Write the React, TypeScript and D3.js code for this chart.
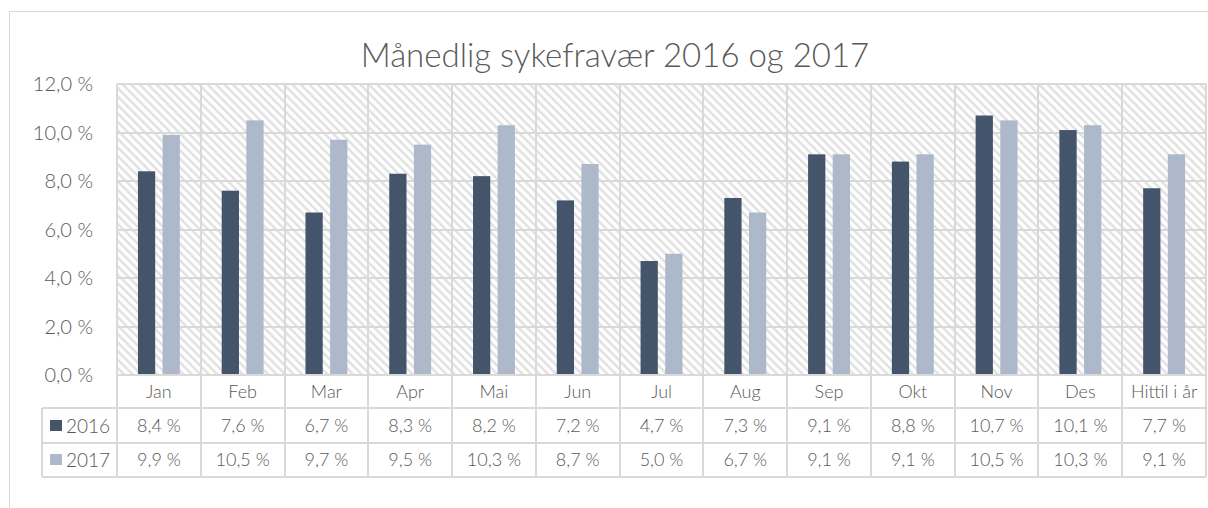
import { useEffect, useRef } from 'react';
import * as d3 from 'd3';

const categories = ["Jan", "Feb", "Mar", "Apr", "Mai", "Jun", "Jul", "Aug", "Sep", "Okt", "Nov", "Des", "Hittil i år"];
const seriesNames = ["2016", "2017"];
const values2016 = [8.4, 7.6, 6.7, 8.3, 8.2, 7.2, 4.7, 7.3, 9.1, 8.8, 10.7, 10.1, 7.7];
const values2017 = [9.9, 10.5, 9.7, 9.5, 10.3, 8.7, 5.0, 6.7, 9.1, 9.1, 10.5, 10.3, 9.1];
const yTicks = [0, 2, 4, 6, 8, 10, 12];
const title = "Månedlig sykefravær 2016 og 2017";

const colors = ["#44546a", "#adb9ca"];
const textColor = "#595959";
const gridColor = "#d9d9d9";
const fmt = (v: number) => v.toFixed(1).replace('.', ',') + ' %';

const App = () => {
  const svgRef = useRef<SVGSVGElement>(null);

  useEffect(() => {
    if (!svgRef.current) return;
    const svg = d3.select(svgRef.current);
    svg.selectAll("*").remove();

    const width = 1208;
    const height = 508;
    const plot = { left: 117, right: 1206, top: 84, bottom: 375 };
    const rowH = 34;
    const tableLeft = 42;
    const font = "Lato, 'Open Sans', sans-serif";

    // hatch pattern for plot background
    const defs = svg.append("defs");
    const pat = defs.append("pattern")
      .attr("id", "hatch")
      .attr("patternUnits", "userSpaceOnUse")
      .attr("width", 6)
      .attr("height", 6)
      .attr("patternTransform", "rotate(45)");
    pat.append("line")
      .attr("x1", 0).attr("y1", 3).attr("x2", 6).attr("y2", 3)
      .attr("stroke", "#e0e0e0")
      .attr("stroke-width", 2.5);

    svg.append("rect")
      .attr("width", width).attr("height", height)
      .attr("fill", "#fff");

    // chart area border
    svg.append("rect")
      .attr("x", 9.5).attr("y", 11.5)
      .attr("width", 1400).attr("height", 700)
      .attr("fill", "none")
      .attr("stroke", gridColor);

    const x = d3.scaleBand<string>()
      .domain(categories)
      .range([plot.left, plot.right]);
    const bw = x.bandwidth();
    const x1 = d3.scaleBand<string>()
      .domain(seriesNames)
      .range([bw * 0.25, bw * 0.75])
      .paddingInner(0.3);
    const y = d3.scaleLinear().domain([0, 12]).range([plot.bottom, plot.top]);

    svg.append("rect")
      .attr("x", plot.left).attr("y", plot.top)
      .attr("width", plot.right - plot.left).attr("height", plot.bottom - plot.top)
      .attr("fill", "url(#hatch)");

    // gridlines
    const grid = svg.append("g").attr("stroke", gridColor).attr("stroke-width", 2);
    yTicks.forEach(t => {
      grid.append("line")
        .attr("x1", plot.left).attr("x2", plot.right)
        .attr("y1", Math.round(y(t))).attr("y2", Math.round(y(t)));
    });
    categories.forEach(c => {
      const xx = Math.round(x(c)!);
      grid.append("line")
        .attr("x1", xx).attr("x2", xx)
        .attr("y1", plot.top).attr("y2", plot.bottom + rowH * 3);
    });
    grid.append("line")
      .attr("x1", plot.right).attr("x2", plot.right)
      .attr("y1", plot.top).attr("y2", plot.bottom + rowH * 3);

    // table lines
    for (let r = 1; r <= 3; r++) {
      const ly = plot.bottom + rowH * r - (r === 1 ? 1 : 0);
      grid.append("line")
        .attr("x1", tableLeft).attr("x2", plot.right)
        .attr("y1", ly).attr("y2", ly);
    }
    grid.append("line")
      .attr("x1", tableLeft).attr("x2", tableLeft)
      .attr("y1", plot.bottom + rowH - 1).attr("y2", plot.bottom + rowH * 3);

    // bars
    const series = [values2016, values2017];
    series.forEach((vals, si) => {
      svg.append("g")
        .selectAll("rect")
        .data(vals)
        .enter()
        .append("rect")
        .attr("x", (d, i) => x(categories[i])! + x1(seriesNames[si])!)
        .attr("width", x1.bandwidth())
        .attr("y", d => y(d))
        .attr("height", d => y(0) - y(d) - 1)
        .attr("fill", colors[si]);
    });

    const label = (sel: d3.Selection<SVGTextElement, any, any, any>, size: number) =>
      sel.style("font-family", font)
        .style("font-size", `${size}px`)
        .style("font-weight", 300)
        .style("fill", textColor);

    // y axis labels
    svg.append("g")
      .selectAll("text")
      .data(yTicks)
      .enter()
      .append("text")
      .attr("x", 93)
      .attr("y", d => y(d))
      .attr("dy", "0.35em")
      .attr("text-anchor", "end")
      .call(s => label(s, 20))
      .text(d => fmt(d));

    // category labels
    svg.append("g")
      .selectAll("text")
      .data(categories)
      .enter()
      .append("text")
      .attr("x", d => x(d)! + bw / 2)
      .attr("y", plot.bottom + rowH / 2)
      .attr("dy", "0.35em")
      .attr("text-anchor", "middle")
      .call(s => label(s, 18))
      .text(d => d);

    // table rows
    series.forEach((vals, si) => {
      const rowY = plot.bottom + rowH * (si + 1) + rowH / 2;
      svg.append("rect")
        .attr("x", 50).attr("y", rowY - 6)
        .attr("width", 12).attr("height", 11)
        .attr("fill", colors[si]);
      svg.append("text")
        .attr("x", 66).attr("y", rowY)
        .attr("dy", "0.35em")
        .call(s => label(s, 19))
        .text(seriesNames[si]);
      svg.append("g")
        .selectAll("text")
        .data(vals)
        .enter()
        .append("text")
        .attr("x", (d, i) => x(categories[i])! + bw / 2)
        .attr("y", rowY)
        .attr("dy", "0.35em")
        .attr("text-anchor", "middle")
        .call(s => label(s, 18))
        .text(d => fmt(d));
    });

    // title
    svg.append("text")
      .attr("x", 615)
      .attr("y", 67)
      .attr("text-anchor", "middle")
      .call(s => label(s, 33))
      .text(title);
  }, []);

  return (
    <svg
      ref={svgRef}
      width={1208}
      height={508}
      style={{ position: 'absolute', left: 0, top: 0, display: 'block' }}
    />
  );
};

export default App;
